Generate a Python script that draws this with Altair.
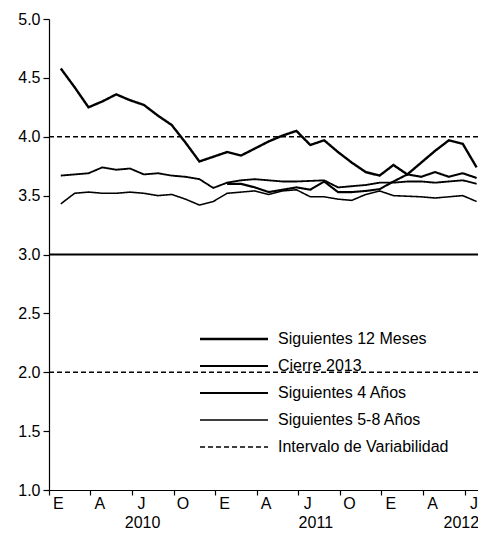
import altair as alt
import pandas as pd

# ---------------- data ----------------
months = list(range(31))  # 0 = Ene 2010 ... 30 = Jul 2012

s12_meses = [4.58, 4.42, 4.25, 4.30, 4.36, 4.31, 4.27, 4.18, 4.10, 3.95, 3.79,
             3.83, 3.87, 3.84, 3.90, 3.96, 4.01, 4.05, 3.93, 3.97, 3.87, 3.78,
             3.70, 3.67, 3.76, 3.68, 3.78, 3.88, 3.97, 3.94, 3.74]
cierre_2013_start = 12
cierre_2013 = [3.60, 3.60, 3.57, 3.53, 3.55, 3.57, 3.55, 3.62, 3.53, 3.53,
               3.54, 3.555, 3.62, 3.68, 3.66, 3.70, 3.66, 3.69, 3.65]
s4_anos = [3.67, 3.68, 3.69, 3.74, 3.72, 3.73, 3.68, 3.69, 3.67, 3.66, 3.64,
           3.565, 3.61, 3.63, 3.64, 3.63, 3.62, 3.62, 3.625, 3.63, 3.57, 3.58,
           3.59, 3.61, 3.61, 3.62, 3.62, 3.61, 3.62, 3.63, 3.60]
s58_anos = [3.43, 3.52, 3.53, 3.52, 3.52, 3.53, 3.52, 3.50, 3.51, 3.47, 3.42,
            3.45, 3.52, 3.53, 3.54, 3.51, 3.54, 3.55, 3.49, 3.49, 3.47, 3.46,
            3.51, 3.54, 3.50, 3.495, 3.49, 3.48, 3.49, 3.50, 3.45]
intervalo = [4.0, 2.0]
meta = [3.0]

series_names = ["Siguientes 12 Meses", "Cierre 2013", "Siguientes 4 Años",
                "Siguientes 5-8 Años", "Intervalo de Variabilidad"]
tick_months = list(range(0, 31, 3))
tick_letters = ["E", "A", "J", "O"]
year_labels = ["2010", "2011", "2012"]
year_label_month = [5.9, 18.4, 28.9]
y_ticks = [1.0, 1.5, 2.0, 2.5, 3.0, 3.5, 4.0, 4.5, 5.0]

# ---------------- tables ----------------
rows = []
for m, v in zip(months, s12_meses):
    rows.append({"serie": series_names[0], "mes": m, "valor": v})
for i, v in enumerate(cierre_2013):
    rows.append({"serie": series_names[1], "mes": cierre_2013_start + i, "valor": v})
for m, v in zip(months, s4_anos):
    rows.append({"serie": series_names[2], "mes": m, "valor": v})
for m, v in zip(months, s58_anos):
    rows.append({"serie": series_names[3], "mes": m, "valor": v})
lines_df = pd.DataFrame(rows)

interval_df = pd.DataFrame({"serie": [series_names[4]] * len(intervalo), "valor": intervalo})
meta_df = pd.DataFrame({"valor": meta})
years_df = pd.DataFrame({"anio": year_labels, "mes": year_label_month})

# ---------------- scales / axes ----------------
FONT = "Liberation Sans"
W, H = 429, 471
x_scale = alt.Scale(domain=[-0.85, 30.1], nice=False, zero=False)
y_scale = alt.Scale(domain=[1, 5], nice=False, zero=False)

letter_expr = "['" + "','".join(tick_letters) + "'][floor(datum.value/3)%4]"

x_axis = alt.Axis(values=tick_months, labelExpr=letter_expr, title=None, grid=False,
                  tickSize=5, tickOffset=-12, labelOffset=9, labelPadding=0,
                  labelFontSize=16, labelFont=FONT, labelColor="black",
                  labelFlush=False, labelOverlap=False, labelBound=False,
                  labelAngle=0, domainColor="black", tickColor="black",
                  domainWidth=1.2, tickWidth=1.2)
y_axis = alt.Axis(values=y_ticks, format=".1f", title=None, grid=False,
                  tickSize=6, labelPadding=3, labelFontSize=16, labelFont=FONT,
                  labelColor="black", domainColor="black", tickColor="black",
                  domainWidth=1.2, tickWidth=1.2)

# legend sample: a 68px horizontal stroke drawn as a custom symbol path
legend = alt.Legend(orient="none", legendX=177, legendY=312, title=None,
                    symbolType="M-34,0H34", symbolSize=4, labelFontSize=16,
                    labelFont=FONT, labelColor="black", labelOffset=36,
                    rowPadding=11, padding=0, labelLimit=400)

color_enc = alt.Color("serie:N", scale=alt.Scale(domain=series_names, range=["black"] * 5),
                      legend=legend)
dash_enc = alt.StrokeDash("serie:N", scale=alt.Scale(domain=series_names,
                          range=[[1, 0], [1, 0], [1, 0], [1, 0], [5, 3]]), legend=legend)
width_enc = alt.StrokeWidth("serie:N", scale=alt.Scale(domain=series_names,
                            range=[2.4, 1.3, 1.3, 1.3, 2.0]), legend=legend)

lines = alt.Chart(lines_df).mark_line().encode(
    x=alt.X("mes:Q", scale=x_scale, axis=x_axis),
    y=alt.Y("valor:Q", scale=y_scale, axis=y_axis),
    color=color_enc, strokeDash=dash_enc, strokeWidth=width_enc,
    detail="serie:N",
)

interval = alt.Chart(interval_df).mark_rule().encode(
    y=alt.Y("valor:Q", scale=y_scale),
    color=color_enc, strokeDash=dash_enc, strokeWidth=width_enc,
    detail="valor:Q",
)

meta_rule = alt.Chart(meta_df).mark_rule(color="black", strokeWidth=2.2).encode(
    y=alt.Y("valor:Q", scale=y_scale),
)

years = alt.Chart(years_df).mark_text(font=FONT, fontSize=16, color="black",
                                      baseline="middle", align="center").encode(
    x=alt.X("mes:Q", scale=x_scale),
    y=alt.value(H + 33),
    text="anio:N",
)

chart = alt.layer(meta_rule, interval, lines, years).properties(
    width=W, height=H,
    padding={"left": 41, "top": 11, "right": 0, "bottom": 54},
    autosize=alt.AutoSizeParams(type="none"),
    background="white",
).configure_view(stroke=None)

chart.save("out.html", embed_options={"renderer": "svg", "actions": False})
